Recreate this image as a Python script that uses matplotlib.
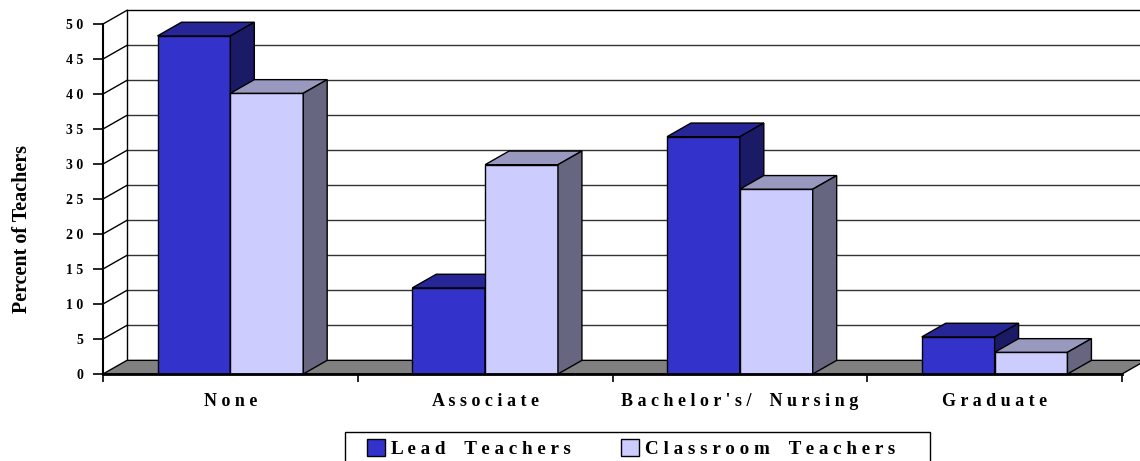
#3D-style clustered column chart of teacher education levels
import numpy as np
import matplotlib
matplotlib.use("Agg")
import matplotlib.pyplot as plt
from matplotlib.patches import Polygon, Rectangle

#data
categories = ["None", "Associate", "Bachelor's/ Nursing", "Graduate"]
series_names = ["Lead Teachers", "Classroom Teachers"]
lead = [48.3, 12.3, 33.9, 5.3]
classroom = [40.1, 29.9, 26.4, 3.1]
yticks = [0, 5, 10, 15, 20, 25, 30, 35, 40, 45, 50]

#colours: front, top, side for each series
lead_cols = ("#3333cc", "#262699", "#1a1a66")
class_cols = ("#ccccff", "#9999bf", "#666680")

def spaced(s):
    """mimic the wide letter spacing of the original"""
    return " ".join(s.replace(" ", "\u2002"))

plt.rcParams["font.family"] = ["Liberation Serif", "DejaVu Serif"]
plt.rcParams["font.weight"] = "bold"

W, H = 1140, 461
fig = plt.figure(figsize=(W / 100, H / 100), dpi=100)
ax = fig.add_axes([103 / W, 87 / H, 1019 / W, 350 / H])
ax.set_xlim(-0.5, len(categories) - 0.5)
ax.set_ylim(0, 50)

#depth offset of the 3D box, in data units
ddx = 0.094
ddy = 1.95
bw = 0.286

x0, x1 = -0.5, len(categories) - 0.5

#back wall
ax.add_patch(Polygon([(x0 + ddx, ddy), (x1 + ddx + 0.2, ddy), (x1 + ddx + 0.2, 50 + ddy), (x0 + ddx, 50 + ddy)],
                     closed=True, facecolor="white", edgecolor="none", clip_on=False, zorder=0))
for v in yticks[1:]:
    ax.plot([x0 + ddx, x1 + ddx + 0.2], [v + ddy, v + ddy], color="black" if v == 50 else "#333333",
            lw=1.0, clip_on=False, zorder=1)
    #slanted lines on the side wall
    ax.plot([x0, x0 + ddx], [v, v + ddy], color="black", lw=1.0, clip_on=False, zorder=1)
ax.plot([x0 + ddx, x0 + ddx], [ddy, 50 + ddy], color="black", lw=1.0, clip_on=False, zorder=1)

#floor
ax.add_patch(Polygon([(x0, 0), (x1, 0), (x1 + ddx, ddy), (x0 + ddx, ddy)], closed=True,
                     facecolor="#808080", edgecolor="black", lw=1.0, clip_on=False, zorder=1.5))

def bar3d(xl, h, cols):
    xr = xl + bw
    ax.add_patch(Polygon([(xl, 0), (xr, 0), (xr, h), (xl, h)], closed=True,
                         facecolor=cols[0], edgecolor="black", lw=1.0, clip_on=False, zorder=3))
    ax.add_patch(Polygon([(xl, h), (xr, h), (xr + ddx, h + ddy), (xl + ddx, h + ddy)], closed=True,
                         facecolor=cols[1], edgecolor="black", lw=1.0, clip_on=False, zorder=3))
    ax.add_patch(Polygon([(xr, 0), (xr + ddx, ddy), (xr + ddx, h + ddy), (xr, h)], closed=True,
                         facecolor=cols[2], edgecolor="black", lw=1.0, clip_on=False, zorder=3))

for i in range(len(categories)):
    bar3d(i - bw, lead[i], lead_cols)
    bar3d(i, classroom[i], class_cols)

#axes styling
for s in ["top", "right"]:
    ax.spines[s].set_visible(False)
ax.spines["left"].set_linewidth(1.5)
ax.spines["bottom"].set_linewidth(2.0)
ax.spines["left"].set_zorder(4)
ax.spines["bottom"].set_zorder(4)
ax.patch.set_visible(False)

ax.set_yticks(yticks)
ax.set_yticklabels([" ".join(str(v)) for v in yticks], fontsize=10, fontweight="bold")
ax.tick_params(axis="y", direction="out", length=7, width=1.2, pad=7)

ax.set_xticks(range(len(categories)))
ax.set_xticklabels([spaced(c) for c in categories], fontsize=13, fontweight="bold")
ax.set_xticks(np.arange(x0, x1 + 0.01, 1.0), minor=True)
ax.tick_params(axis="x", which="major", length=0, pad=14)
ax.tick_params(axis="x", which="minor", direction="out", length=6, width=1.2)

fig.text(22 / W, 1 - 229 / H, "Percent of Teachers", rotation=90, ha="center", va="center",
         fontsize=14.5, fontweight="bold")

#legend box (runs off the bottom edge like the original)
fig.add_artist(Rectangle((345 / W, -0.05), 585 / W, 0.05 + (H - 432) / H, transform=fig.transFigure,
                         facecolor="white", edgecolor="black", lw=1.0))
handles = [Rectangle((0, 0), 1, 1, facecolor=lead_cols[0], edgecolor="black"),
           Rectangle((0, 0), 1, 1, facecolor=class_cols[0], edgecolor="black")]
leg = fig.legend(handles, [spaced(n) for n in series_names], loc="upper left",
                 bbox_to_anchor=(367 / W, 1 - 439 / H), ncol=2, frameon=False,
                 prop={"size": 13.8, "weight": "bold"}, handlelength=0.95, handleheight=0.95,
                 handletextpad=0.3, columnspacing=2.6, borderpad=0, borderaxespad=0)

fig.savefig("out.png", dpi=100)
